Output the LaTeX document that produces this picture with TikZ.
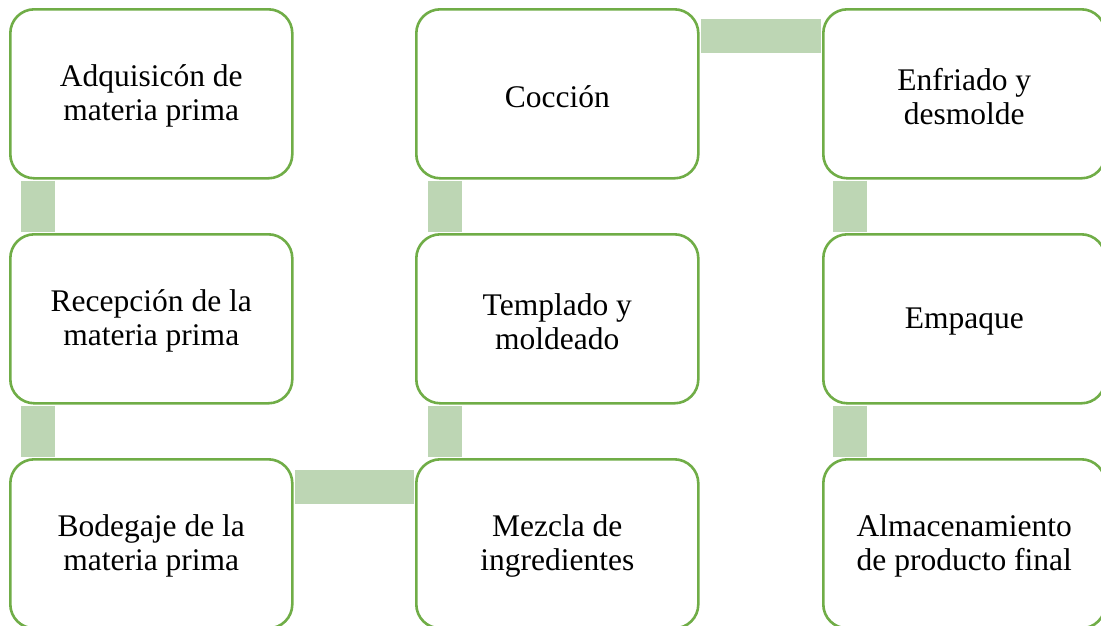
\documentclass[tikz,border=0pt]{standalone}
\usepackage{fontspec}
\setmainfont{Liberation Serif}
\definecolor{boxgreen}{RGB}{112,173,71}
\definecolor{bargreen}{RGB}{189,214,180}
\begin{document}
\begin{tikzpicture}[x=1pt,y=-1pt,
  stepbox/.style={draw=boxgreen, line width=2.6pt, fill=white, rounded corners=24pt,
    minimum width=282pt, minimum height=169pt, inner sep=0pt, anchor=north west},
  steptext/.style={align=center, inner sep=0pt, font=\fontsize{31.5}{34}\selectfont},
  bar/.style={draw=bargreen, line width=34pt, line cap=butt}]
\useasboundingbox (0,0) rectangle (1101,625);
\node[stepbox] (a1) at (9,8) {};
\node[stepbox] (a2) at (9,233) {};
\node[stepbox] (a3) at (9,458) {};
\node[stepbox] (b3) at (415,458) {};
\node[stepbox] (b2) at (415,233) {};
\node[stepbox] (b1) at (415,8) {};
\node[stepbox] (c1) at (822,8) {};
\node[stepbox] (c2) at (822,233) {};
\node[stepbox] (c3) at (822,458) {};
\node[steptext] (ta1) at ([yshift=-2.5pt]a1.center) {Adquisicón de\\materia prima};
\node[steptext] (ta2) at ([yshift=-2.5pt]a2.center) {Recepción de la\\materia prima};
\node[steptext] (ta3) at ([yshift=-2.5pt]a3.center) {Bodegaje de la\\materia prima};
\node[steptext] (tb3) at ([yshift=-2.5pt]b3.center) {Mezcla de\\ingredientes};
\node[steptext] (tb2) at ([yshift=-2.5pt]b2.center) {Templado y\\moldeado};
\node[steptext] (tb1) at ([yshift=-2.5pt]b1.center) {Cocción};
\node[steptext] (tc1) at ([yshift=-2.5pt]c1.center) {Enfriado y\\desmolde};
\node[steptext] (tc2) at ([yshift=-2.5pt]c2.center) {Empaque};
\node[steptext] (tc3) at ([yshift=-2.5pt]c3.center) {Almacenamiento\\de producto final};
\draw[bar] ([xshift=29pt,yshift=-1.3pt]a1.south west) -- ([xshift=29pt,yshift=1.3pt]a2.north west);
\draw[bar] ([xshift=29pt,yshift=-1.3pt]a2.south west) -- ([xshift=29pt,yshift=1.3pt]a3.north west);
\draw[bar] ([xshift=1.3pt,yshift=-28.5pt]a3.north east) -- ([xshift=-1.3pt,yshift=-28.5pt]b3.north west);
\draw[bar] ([xshift=30pt,yshift=1.3pt]b3.north west) -- ([xshift=30pt,yshift=-1.3pt]b2.south west);
\draw[bar] ([xshift=30pt,yshift=1.3pt]b2.north west) -- ([xshift=30pt,yshift=-1.3pt]b1.south west);
\draw[bar] ([xshift=1.3pt,yshift=-28pt]b1.north east) -- ([xshift=-1.3pt,yshift=-28pt]c1.north west);
\draw[bar] ([xshift=28pt,yshift=-1.3pt]c1.south west) -- ([xshift=28pt,yshift=1.3pt]c2.north west);
\draw[bar] ([xshift=28pt,yshift=-1.3pt]c2.south west) -- ([xshift=28pt,yshift=1.3pt]c3.north west);
\end{tikzpicture}
\end{document}
